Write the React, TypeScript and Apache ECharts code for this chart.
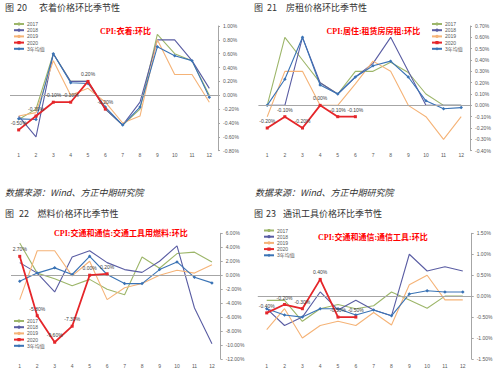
import React, { useEffect, useRef } from 'react';
import * as echarts from 'echarts';

const months = ['1', '2', '3', '4', '5', '6', '7', '8', '9', '10', '11', '12'];
const seriesNames = ['2017', '2018', '2019', '2020', '3年均值'];

// 图20 衣着
const cloth2017 = [-0.35, -0.2, 0.6, 0.2, 0.2, -0.2, -0.43, -0.2, 0.88, 0.6, 0.5, 0.0];
const cloth2018 = [-0.3, -0.6, 0.6, 0.2, 0.2, -0.2, -0.43, -0.1, 0.8, 0.8, 0.5, 0.1];
const cloth2019 = [-0.3, -0.25, 0.5, 0.0, 0.1, -0.1, -0.4, -0.3, 0.8, 0.3, 0.3, -0.1];
const cloth2020 = [-0.5, -0.3, -0.1, -0.1, 0.2, -0.2];
const clothAvg = [-0.34, -0.35, 0.6, 0.18, 0.17, -0.17, -0.43, -0.17, 0.7, 0.57, 0.5, -0.03];

// 图21 房租
const rent2017 = [0.0, 0.6, 0.4, 0.2, 0.1, 0.3, 0.3, 0.38, 0.29, 0.1, 0.0, 0.0];
const rent2018 = [0.0, 0.0, 0.6, 0.2, 0.1, 0.25, 0.37, 0.6, 0.3, 0.0, 0.0, 0.0];
const rent2019 = [-0.1, 0.3, 0.3, 0.0, 0.0, 0.19, 0.39, 0.3, 0.0, -0.1, -0.3, -0.1];
const rent2020 = [-0.2, -0.1, -0.2, 0.0, -0.1, -0.1];
const rentAvg = [0.0, 0.23, 0.6, 0.18, 0.1, 0.25, 0.35, 0.39, 0.25, 0.04, -0.03, -0.02];

// 图22 燃料
const fuel2017 = [4.6, 0.3, -0.5, -1.5, -0.6, -2.0, -2.8, 2.6, 1.0, 3.1, 3.3, 1.9];
const fuel2018 = [1.8, 0.3, -2.4, 2.6, 3.5, 1.8, 0.8, 0.4, 2.0, 4.2, -4.7, -9.8];
const fuel2019 = [-3.5, 3.5, 3.5, -0.1, 2.0, -3.5, -1.8, -1.2, 0.0, 0.7, 0.3, 1.5];
const fuel2020 = [2.7, -5.8, -9.6, -7.3, 0.0, 0.2];
const fuelAvg = [-0.86, 0.3, 1.05, 0.1, 2.7, 0.1, -1.2, -1.2, 0.8, 1.9, -0.3, -1.1];

// 图23 通讯工具
const tel2017 = [-0.1, -0.1, -0.6, -0.3, -0.2, -0.3, -0.23, 0.1, -0.09, -0.29, 0.0, 0.0];
const tel2018 = [-0.3, -0.7, -0.5, 0.1, -0.33, -0.1, -0.33, -0.47, 1.0, 0.6, 0.7, 0.6];
const tel2019 = [-0.8, -0.3, -1.0, -0.7, -0.6, -0.7, -0.39, -0.69, 0.27, 0.5, -0.09, -0.09];
const tel2020 = [-0.4, -0.2, -0.3, 0.4, -0.5, -0.5];
const telAvg = [-0.3, -0.45, -0.5, -0.3, -0.3, -0.45, -0.33, -0.47, 0.05, 0.13, 0.1, 0.1];

const lineColors = ['#9DB66A', '#5A5DA3', '#F5B377', '#E5262A', '#3A73B5'];

const charts = [
  {
    grid: { left: 10, top: 26, width: 208, height: 124.7 },
    min: -0.8, max: 1.0, interval: 0.2, xMargin: 2,
    data: [cloth2017, cloth2018, cloth2019, cloth2020, clothAvg],
    legend: { left: 13, top: 21.5 },
  },
  {
    grid: { left: 258.4, top: 26, width: 211.6, height: 124.7 },
    min: -0.4, max: 0.7, interval: 0.1, xMargin: 2,
    data: [rent2017, rent2018, rent2019, rent2020, rentAvg],
    legend: { left: 431, top: 21.5 },
  },
  {
    grid: { left: 11, top: 233.3, width: 209.7, height: 125.7 },
    min: -12, max: 6, interval: 2, xMargin: 4,
    data: [fuel2017, fuel2018, fuel2019, fuel2020, fuelAvg],
    legend: { left: 13, top: 318.5 },
  },
  {
    grid: { left: 257.8, top: 233.3, width: 213.9, height: 125.7 },
    min: -1.5, max: 1.5, interval: 0.5, xMargin: 4,
    data: [tel2017, tel2018, tel2019, tel2020, telAvg],
    legend: { left: 263, top: 228 },
  },
];

const fmt = (v: number) => {
  const x = Math.abs(v) < 1e-9 ? 0 : v;
  return x.toFixed(2) + '%';
};

const FONT = 'Liberation Sans, "Noto Sans CJK SC", sans-serif';
const CJK = '"Noto Sans CJK SC", sans-serif';
const SUB = 'Liberation Serif, "Noto Sans CJK SC", serif';

export default function App() {
  const ref = useRef<HTMLDivElement>(null);
  useEffect(() => {
    if (!ref.current) return;
    const chart = echarts.init(ref.current, undefined, { renderer: 'svg' });
    const series: any[] = [];
    charts.forEach((c, i) => {
      seriesNames.forEach((n, k) => {
        series.push({
          type: 'line',
          name: n,
          xAxisIndex: i,
          yAxisIndex: i,
          data: c.data[k],
          color: lineColors[k],
          lineStyle: { color: lineColors[k], width: k === 3 ? 1.8 : 1.1 },
          itemStyle: { color: lineColors[k] },
          symbol: k === 3 ? 'rect' : k === 4 ? 'diamond' : 'none',
          symbolSize: k === 3 ? 3 : 3.5,
          showSymbol: k >= 3,
          z: k === 3 ? 5 : 2 + k * 0.1,
          label:
            k === 3
              ? {
                  show: true,
                  position: 'top',
                  distance: 3,
                  fontSize: 5,
                  color: '#404040',
                  fontFamily: FONT,
                  formatter: (p: any) => fmt(p.value),
                }
              : { show: false },
          markLine:
            k === 0
              ? {
                  silent: true,
                  symbol: 'none',
                  label: { show: false },
                  lineStyle: { color: '#a6a6a6', width: 1, type: 'solid' },
                  data: [{ yAxis: 0 }],
                }
              : undefined,
        });
      });
    });

    const titleTexts = [
      { n: '图', x: 5, y: 7.5 }, { n: '20', x: 17, y: 7.5 }, { n: '衣着价格环比季节性', x: 39, y: 7.5 },
      { n: '图', x: 254, y: 7.5 }, { n: '21', x: 267, y: 7.5 }, { n: '房租价格环比季节性', x: 286, y: 7.5 },
      { n: '图', x: 5, y: 213.3 }, { n: '22', x: 19, y: 213.3 }, { n: '燃料价格环比季节性', x: 37.5, y: 213.3 },
      { n: '图', x: 254, y: 213.3 }, { n: '23', x: 266, y: 213.3 }, { n: '通讯工具价格环比季节性', x: 283, y: 213.3 },
    ];
    const subTexts = [
      { n: 'CPI:衣着:环比', x: 100, y: 31 },
      { n: 'CPI:居住:租赁房房租:环比', x: 326.5, y: 31 },
      { n: 'CPI:交通和通信:交通工具用燃料:环比', x: 54, y: 233.5 },
      { n: 'CPI:交通和通信:通信工具:环比', x: 318, y: 237 },
    ];
    const graphic: any[] = [];
    titleTexts.forEach((t) =>
      graphic.push({
        type: 'text',
        x: t.x,
        y: t.y,
        style: { text: t.n, fill: '#333', font: `9px ${CJK}`, verticalAlign: 'middle' },
      })
    );
    subTexts.forEach((t) =>
      graphic.push({
        type: 'text',
        x: t.x,
        y: t.y,
        style: { text: t.n, fill: '#FF0000', font: `bold 8px ${SUB}`, verticalAlign: 'middle' },
      })
    );
    [5, 255].forEach((x) =>
      graphic.push({
        type: 'text',
        x,
        y: 192.7,
        style: {
          text: '数据来源：Wind、方正中期研究院',
          fill: '#333',
          font: `italic 9px ${CJK}`,
          verticalAlign: 'middle',
        },
      })
    );

    chart.setOption({
      animation: false,
      backgroundColor: '#ffffff',
      grid: charts.map((c) => ({ ...c.grid, containLabel: false, outerBoundsMode: 'none' })),
      xAxis: charts.map((c, i) => ({
        type: 'category',
        gridIndex: i,
        data: months,
        boundaryGap: true,
        axisLine: { show: false },
        axisTick: { show: false },
        axisLabel: { fontSize: 5, color: '#595959', margin: c.xMargin, fontFamily: FONT },
        splitLine: { show: false },
      })),
      yAxis: charts.map((c, i) => ({
        type: 'value',
        gridIndex: i,
        position: 'right',
        min: c.min,
        max: c.max,
        interval: c.interval,
        axisLine: { show: true, lineStyle: { color: '#a6a6a6', width: 1 } },
        axisTick: { show: true, length: 2, lineStyle: { color: '#a6a6a6' } },
        axisLabel: {
          fontSize: 5,
          color: '#595959',
          margin: 5,
          fontFamily: FONT,
          formatter: (v: number) => fmt(v),
        },
        splitLine: { show: false },
      })),
      legend: charts.map((c) => ({
        orient: 'vertical',
        left: c.legend.left,
        top: c.legend.top,
        data: seriesNames,
        itemWidth: 10,
        itemHeight: 4,
        itemGap: 1.2,
        padding: 0,
        selectedMode: false,
        textStyle: { fontSize: 5, lineHeight: 5, color: '#595959', fontFamily: FONT, padding: [0, 0, 0, -2] },
      })),
      graphic,
      series,
    });
    return () => chart.dispose();
  }, []);
  return (
    <div
      ref={ref}
      style={{ position: 'absolute', left: 0, top: 0, width: 500, height: 374, background: '#fff' }}
    />
  );
}
